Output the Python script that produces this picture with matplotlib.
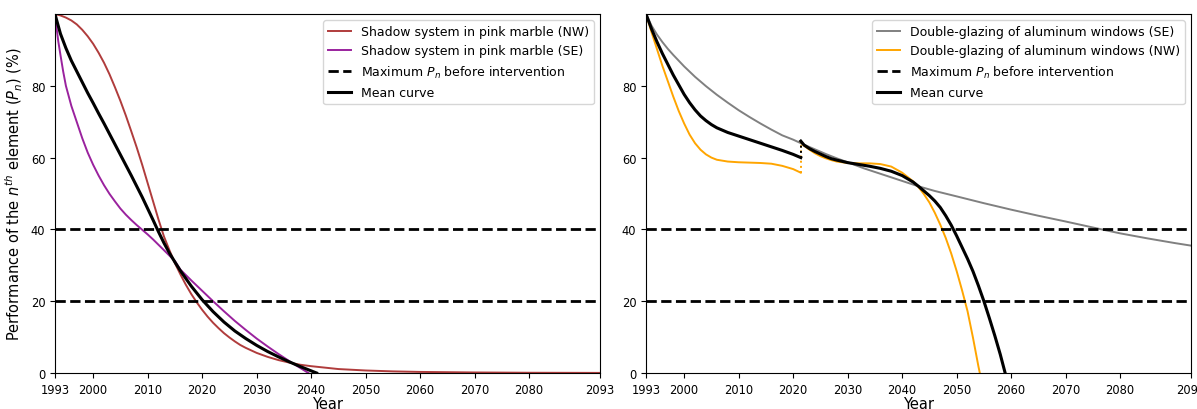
import matplotlib.pyplot as plt

# --- left panel: shadow system in pink marble ---
nw_years = [1993, 1994, 1995, 1996, 1997, 1998, 1999, 2000, 2001, 2002, 2003, 2004,
            2005, 2006, 2007, 2008, 2009, 2010, 2011, 2012, 2013, 2014, 2015, 2016,
            2017, 2018, 2019, 2020, 2021, 2022, 2023, 2024, 2025, 2026, 2027, 2028,
            2030, 2032, 2034, 2036, 2038, 2040, 2045, 2050, 2055, 2060, 2070, 2080, 2093]
nw_vals = [100, 99.6, 99.0, 98.2, 97.1, 95.6, 93.8, 91.7, 89.2, 86.4, 83.2, 79.6,
           75.8, 71.7, 67.3, 62.8, 58.0, 52.9, 47.8, 42.7, 38.0, 34.2, 30.6, 27.5,
           24.6, 22.0, 19.7, 17.6, 15.7, 14.0, 12.5, 11.1, 9.9, 8.8, 7.8, 7.0,
           5.6, 4.5, 3.6, 2.9, 2.3, 1.9, 1.1, 0.7, 0.45, 0.3, 0.15, 0.07, 0.03]

se_years = [1993, 1993.3, 1993.6, 1994, 1994.5, 1995, 1996, 1997, 1998, 1999, 2000,
            2001, 2002, 2003, 2004, 2005, 2006, 2007, 2008, 2009, 2010, 2011, 2012,
            2013, 2014, 2015, 2016, 2018, 2020, 2022, 2024, 2026, 2028, 2030, 2032,
            2034, 2036, 2038, 2039.5]
se_vals = [100, 96, 92.4, 88.6, 84.0, 80.0, 74.4, 69.9, 65.4, 61.4, 58.0,
           55.0, 52.3, 49.9, 47.8, 45.8, 44.1, 42.6, 41.2, 39.9, 38.6, 37.2, 35.7,
           34.2, 32.7, 31.2, 28.8, 25.8, 22.9, 20.0, 17.2, 14.5, 12.0, 9.6, 7.4,
           5.3, 3.3, 1.4, 0]

mean_l_years = [1993, 1993.3, 1994, 1995, 1996, 1997, 1998, 1999, 2000, 2001, 2002,
                2003, 2004, 2005, 2006, 2007, 2008, 2009, 2010, 2011, 2012, 2013,
                2014, 2015, 2016, 2018, 2020, 2022, 2024, 2026, 2028, 2030, 2032,
                2034, 2036, 2038, 2040, 2041]
mean_l_vals = [100, 98.3, 94.5, 90.5, 87.0, 84.0, 81.0, 78.0, 75.2, 72.3, 69.5,
               66.6, 63.7, 60.8, 57.9, 55.0, 52.0, 49.0, 45.8, 42.6, 39.3, 36.2,
               33.4, 30.9, 28.5, 24.2, 20.4, 17.1, 14.2, 11.7, 9.6, 7.7, 6.0,
               4.5, 3.1, 1.8, 0.6, 0]

# --- right panel: double-glazing of aluminum windows ---
dg_se_years = [1993, 1994, 1995, 1996, 1997, 1998, 2000, 2002, 2004, 2006, 2008,
               2010, 2012, 2014, 2016, 2018, 2020, 2022, 2024, 2026, 2028, 2030,
               2033, 2036, 2040, 2043, 2046, 2050, 2055, 2060, 2065, 2070, 2076,
               2080, 2085, 2090, 2095]
dg_se_vals = [100, 96.8, 94.3, 92.2, 90.3, 88.6, 85.4, 82.5, 79.9, 77.5, 75.3,
              73.2, 71.3, 69.5, 67.8, 66.2, 65.0, 63.6, 62.3, 61.0, 59.8, 58.7,
              57.0, 55.5, 53.5, 52.0, 50.7, 49.2, 47.3, 45.5, 43.8, 42.2, 40.2,
              38.9, 37.5, 36.2, 35.0]

# NW before and after the 2021 intervention
dg_nw_years1 = [1993, 1994, 1995, 1996, 1997, 1998, 1999, 2000, 2001, 2002, 2003,
                2004, 2005, 2006, 2008, 2010, 2012, 2014, 2016, 2018, 2020, 2021.4]
dg_nw_vals1 = [100, 95.0, 90.3, 85.6, 81.3, 77.0, 73.0, 69.5, 66.4, 64.0, 62.2,
               60.9, 60.0, 59.4, 58.9, 58.7, 58.6, 58.5, 58.3, 57.7, 56.8, 55.8]
dg_nw_years2 = [2021.4, 2022, 2023, 2024, 2025, 2026, 2027, 2028, 2030, 2032, 2034,
                2036, 2038, 2040, 2042, 2043, 2044, 2045, 2046, 2047, 2048, 2049,
                2050, 2051, 2052, 2053, 2054, 2054.25]
dg_nw_vals2 = [64.4, 63.3, 62.2, 61.2, 60.4, 59.8, 59.3, 58.9, 58.5, 58.4, 58.4,
               58.2, 57.5, 55.8, 53.4, 51.8, 49.8, 47.5, 44.6, 41.3, 37.6, 33.3,
               28.4, 23.0, 17.2, 9.8, 1.8, 0]

mean_r_years1 = [1993, 1994, 1995, 1996, 1997, 1998, 1999, 2000, 2001, 2002, 2003,
                 2004, 2005, 2006, 2008, 2010, 2012, 2014, 2016, 2018, 2020, 2021.4]
mean_r_vals1 = [100, 95.9, 92.3, 89.0, 86.0, 83.0, 80.3, 77.6, 75.3, 73.3, 71.6,
                70.3, 69.2, 68.3, 67.0, 66.0, 65.0, 64.0, 63.0, 62.0, 60.9, 60.0]
mean_r_years2 = [2021.4, 2022, 2023, 2024, 2025, 2026, 2027, 2028, 2030, 2032, 2034,
                 2036, 2038, 2040, 2042, 2043, 2044, 2045, 2046, 2047, 2048, 2049,
                 2050, 2051, 2052, 2053, 2054, 2055, 2056, 2057, 2058, 2058.9]
mean_r_vals2 = [64.6, 63.5, 62.5, 61.7, 61.0, 60.3, 59.7, 59.3, 58.6, 58.1, 57.6,
                57.0, 56.2, 55.0, 53.2, 52.0, 50.7, 49.4, 47.9, 46.1, 43.8, 41.2,
                38.2, 35.0, 31.8, 28.3, 24.3, 20.0, 15.3, 10.4, 5.2, 0]

thresholds = [40, 20]
xticks = [1993, 2000, 2010, 2020, 2030, 2040, 2050, 2060, 2070, 2080, 2093]
yticks = [0, 20, 40, 60, 80]

fig = plt.figure(figsize=(11.97, 4.10), dpi=100)
ax1 = fig.add_axes([55 / 1197, 36 / 410, 545 / 1197, 359 / 410])
ax2 = fig.add_axes([646 / 1197, 36 / 410, 545 / 1197, 359 / 410])

ax1.plot(nw_years, nw_vals, color="#b03c3c", lw=1.4, label="Shadow system in pink marble (NW)")
ax1.plot(se_years, se_vals, color="#9a229e", lw=1.4, label="Shadow system in pink marble (SE)")
for i, t in enumerate(thresholds):
    ax1.axhline(t, color="black", ls="--", lw=2,
                label="Maximum $P_n$ before intervention" if i == 0 else None)
ax1.plot(mean_l_years, mean_l_vals, color="black", lw=2.2, label="Mean curve")

ax2.plot(dg_se_years, dg_se_vals, color="gray", lw=1.4, label="Double-glazing of aluminum windows (SE)")
ax2.plot(dg_nw_years1, dg_nw_vals1, color="orange", lw=1.4, label="Double-glazing of aluminum windows (NW)")
ax2.plot(dg_nw_years2, dg_nw_vals2, color="orange", lw=1.4)
ax2.plot([dg_nw_years1[-1], dg_nw_years2[0]], [dg_nw_vals1[-1], dg_nw_vals2[0]],
         color="orange", lw=1.4, ls=":")
for i, t in enumerate(thresholds):
    ax2.axhline(t, color="black", ls="--", lw=2,
                label="Maximum $P_n$ before intervention" if i == 0 else None)
ax2.plot(mean_r_years1, mean_r_vals1, color="black", lw=2.2, label="Mean curve")
ax2.plot(mean_r_years2, mean_r_vals2, color="black", lw=2.2)
ax2.plot([mean_r_years1[-1], mean_r_years2[0]], [mean_r_vals1[-1], mean_r_vals2[0]],
         color="black", lw=1.4, ls=":")

for ax in (ax1, ax2):
    ax.set_xlim(1993, 2093)
    ax.set_ylim(0, 100)
    ax.set_xticks(xticks)
    ax.set_yticks(yticks)
    ax.tick_params(labelsize=8.3)
    ax.set_xlabel("Year", fontsize=10.5, labelpad=0)
    ax.legend(loc="upper right", fontsize=9, handlelength=1.8)

ax1.set_ylabel("Performance of the $n^{th}$ element ($P_n$) (%)", fontsize=10.5)

fig.savefig("out.png", dpi=100)
